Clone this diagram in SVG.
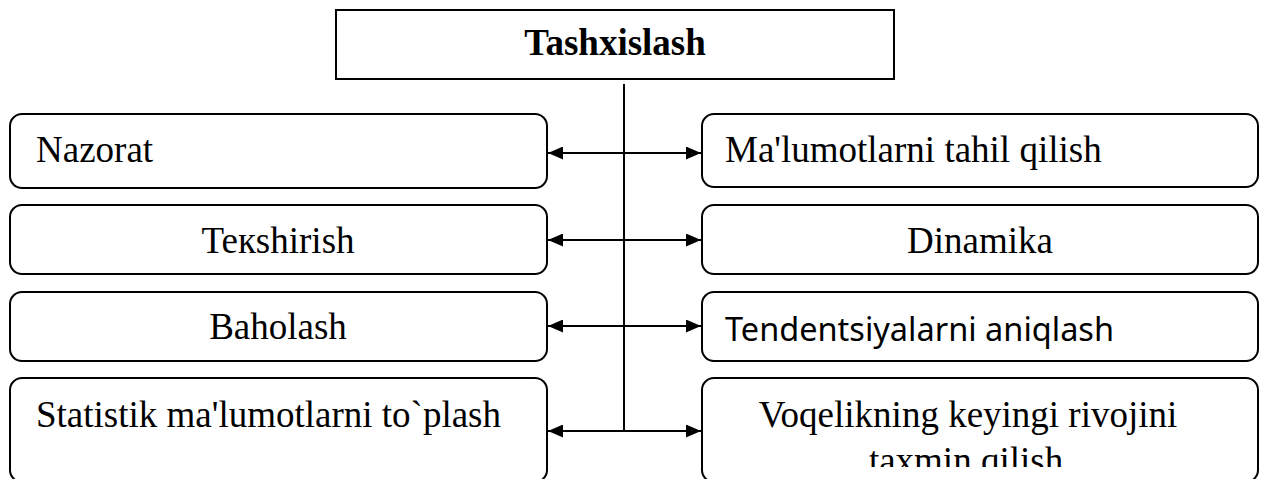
<svg xmlns="http://www.w3.org/2000/svg" width="1264" height="479" viewBox="0 0 1264 479">
<style>
.box{fill:#fff;stroke:#000;stroke-width:2}
.t{font-family:"Liberation Serif","Times New Roman",serif;font-size:37px;fill:#000}
.b{font-weight:bold}
.s{font-family:"Noto Sans","Open Sans",sans-serif;font-size:32.5px;fill:#000}
.c{text-anchor:middle}
.ln{stroke:#000;stroke-width:2;fill:none}
</style>
<defs>
<marker id="ah" viewBox="0 0 15 13" refX="15" refY="6.5" markerWidth="15" markerHeight="13" markerUnits="userSpaceOnUse" orient="auto-start-reverse">
<path d="M0,0 L15,6.5 L0,13 Z" fill="#000"/>
</marker>
<clipPath id="clip4"><rect x="702" y="378" width="556" height="89"/></clipPath>
</defs>
<g id="root">
<rect class="box" x="336" y="10" width="558" height="69"/>
<text class="t b c" x="615" y="55">Tashxislash</text>
</g>
<g id="nazorat">
<rect class="box" x="10" y="114" width="537" height="74" rx="12"/>
<text class="t" x="36" y="162">Nazorat</text>
</g>
<g id="malumotlarni">
<rect class="box" x="702" y="114" width="556" height="73" rx="12"/>
<text class="t" x="725" y="162">Ma'lumotlarni tahil qilish</text>
</g>
<g id="tekshirish">
<rect class="box" x="10" y="205" width="537" height="69" rx="12"/>
<text class="t c" x="278" y="253">Teкshirish</text>
</g>
<g id="dinamika">
<rect class="box" x="702" y="205" width="556" height="69" rx="12"/>
<text class="t c" x="980" y="253">Dinamika</text>
</g>
<g id="baholash">
<rect class="box" x="10" y="292" width="537" height="69" rx="12"/>
<text class="t c" x="278" y="339">Baholash</text>
</g>
<g id="tendentsiya">
<rect class="box" x="702" y="292" width="556" height="69" rx="12"/>
<text class="s" x="725" y="341">Tendentsiyalarni aniqlash</text>
</g>
<g id="statistik">
<rect class="box" x="10" y="378" width="537" height="104" rx="12"/>
<text class="t" x="36" y="427">Statistik ma'lumotlarni to`plash</text>
</g>
<g id="voqelik">
<rect class="box" x="702" y="378" width="556" height="104" rx="12"/>
<g clip-path="url(#clip4)">
<text class="t c" x="968" y="427">Voqelikning keyingi rivojini</text>
<text class="t c" x="966" y="473">taxmin qilish</text>
</g>
</g>
<g id="connectors">
<line class="ln" x1="624" y1="84" x2="624" y2="431"/>
<line class="ln" x1="548" y1="153" x2="701" y2="153" marker-start="url(#ah)" marker-end="url(#ah)"/>
<line class="ln" x1="548" y1="240" x2="701" y2="240" marker-start="url(#ah)" marker-end="url(#ah)"/>
<line class="ln" x1="548" y1="326" x2="701" y2="326" marker-start="url(#ah)" marker-end="url(#ah)"/>
<line class="ln" x1="548" y1="431" x2="701" y2="431" marker-start="url(#ah)" marker-end="url(#ah)"/>
</g>
</svg>
